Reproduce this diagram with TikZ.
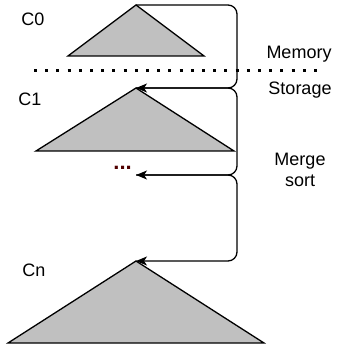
\documentclass[tikz,border=0pt]{standalone}
\usepackage{fontspec}
\setmainfont{Liberation Sans}
\usetikzlibrary{arrows.meta}
\definecolor{trifill}{RGB}{192,192,192}
\definecolor{dotred}{RGB}{80,0,0}
\begin{document}
\begin{tikzpicture}[x=1pt,y=-1pt,
  tri/.style={draw=black,fill=trifill,line width=1.3pt,line join=miter},
  conn/.style={draw=black,line width=1.3pt,rounded corners=9pt,-{Stealth[length=11pt,width=9pt,inset=3pt]}},
  lbl/.style={font=\fontsize{18}{21}\selectfont,inner sep=0pt,align=center},
  sep/.style={line width=3pt,dash pattern=on 3pt off 8.2pt}]
\useasboundingbox (0,0) rectangle (339,347);
% apexes
\coordinate (a0) at (136,5);
\coordinate (a1) at (136,88);
\coordinate (an) at (136,261);
\coordinate (rx) at (237,0);
% triangles
\draw[tri] (a0) -- (204,56) -- (68,56) -- cycle;
\draw[tri] (a1) -- (234,151) -- (36,151) -- cycle;
\draw[tri] (an) -- (264,343) -- (8,343) -- cycle;
% separator
\coordinate (sl) at (34,71);
\coordinate (sr) at (324,71);
\draw[sep] (sl) -- (sr);
% labels
\node[lbl] (c0) at (33,19) {C0};
\node[lbl] (c1) at (30,99) {C1};
\node[lbl] (cn) at (34,270) {Cn};
\node[lbl] (mem) at (299,54) {Memory};
\node[lbl] (sto) at (300,90) {Storage};
\node[lbl] (ms) at (300,170) {Merge\\sort};
\node[font=\fontsize{22}{24}\selectfont\bfseries,text=dotred,inner sep=0pt,anchor=east] (dots) at (132,168) {...};
\coordinate (dt) at (136,175);
% connectors
\draw[conn] (a0) -- (a0 -| rx) -- (a1 -| rx) -- (a1);
\draw[conn] (a1) -- (a1 -| rx) -- (dt -| rx) -- (dt);
\draw[conn] (dt) -- (dt -| rx) -- (an -| rx) -- (an);
\end{tikzpicture}
\end{document}
